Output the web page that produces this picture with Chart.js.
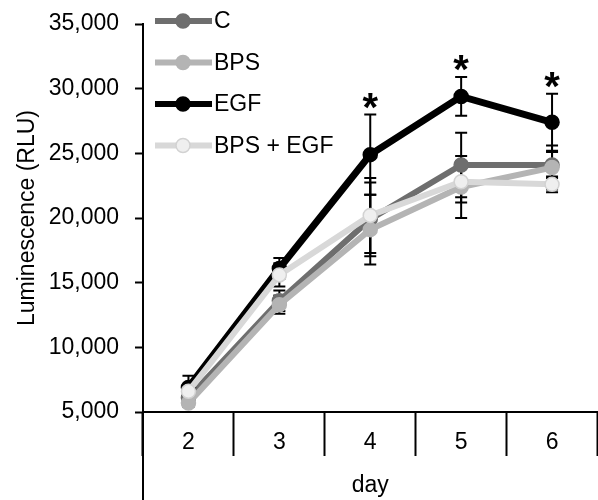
<!DOCTYPE html>
<html>
<head>
<meta charset="utf-8">
<script src="https://cdn.jsdelivr.net/npm/chart.js@4.4.1/dist/chart.umd.min.js"></script>
<style>
  html, body { margin: 0; padding: 0; background: #fff; overflow: hidden; }
  #wrap { width: 598px; height: 500px; overflow: hidden; }
  /* the last category runs a little past the right edge of the figure */
  #inner { width: 606px; height: 500px; }
</style>
</head>
<body>
<div id="wrap"><div id="inner"><canvas id="chart"></canvas></div></div>
<script>
// data (RLU)
const days = ['2', '3', '4', '5', '6'];
const cVals      = [6100, 13600, 19900, 24100, 24100];
const bpsVals    = [5700, 13300, 19100, 22400, 23900];
const egfVals    = [6900, 16100, 24900, 29400, 27400];
const bpsEgfVals = [6600, 15600, 20200, 22800, 22600];

// error bar half-lengths
const cErr      = [400, 800, 2850, 2500, 1000];
const bpsErr    = [300, 700, 2700, 2400, 1700];
const egfErr    = [900, 800, 3100, 1500, 2200];
const bpsEgfErr = [400, 900, 2900, 1600, 600];

// significance marks on the EGF series
const egfMarks = ['', '', '*', '*', '*'];

const yMin = 5000, yMax = 35000, yStep = 5000;

const FONT = "'Liberation Sans', Arial, sans-serif";
const font = { family: FONT, size: 23 };

const series = [
  { label: 'C',         data: cVals,      err: cErr,      line: '#6e6e6e', fill: '#6e6e6e', edge: '#6e6e6e' },
  { label: 'BPS',       data: bpsVals,    err: bpsErr,    line: '#b4b4b4', fill: '#b4b4b4', edge: '#b4b4b4' },
  { label: 'EGF',       data: egfVals,    err: egfErr,    line: '#000000', fill: '#000000', edge: '#000000' },
  { label: 'BPS + EGF', data: bpsEgfVals, err: bpsEgfErr, line: '#d8d8d8', fill: '#efefef', edge: '#d2d2d2' }
];

// error bars, drawn behind the lines
const errorBars = {
  id: 'errorBars',
  beforeDatasetsDraw(chart) {
    const { ctx, scales: { y } } = chart;
    ctx.save();
    ctx.strokeStyle = '#000';
    ctx.lineWidth = 2;
    chart.data.datasets.forEach((ds, i) => {
      const meta = chart.getDatasetMeta(i);
      meta.data.forEach((pt, j) => {
        const e = ds.errors[j];
        const top = y.getPixelForValue(ds.data[j] + e);
        const bot = y.getPixelForValue(ds.data[j] - e);
        ctx.beginPath();
        ctx.moveTo(pt.x, top); ctx.lineTo(pt.x, bot);
        ctx.moveTo(pt.x - 6, top); ctx.lineTo(pt.x + 6, top);
        ctx.moveTo(pt.x - 6, bot); ctx.lineTo(pt.x + 6, bot);
        ctx.stroke();
      });
    });
    ctx.restore();
  }
};

// asterisks above EGF error bars
const asterisks = {
  id: 'asterisks',
  afterDatasetsDraw(chart) {
    const { ctx, scales: { y } } = chart;
    const idx = 2;
    const ds = chart.data.datasets[idx];
    const meta = chart.getDatasetMeta(idx);
    ctx.save();
    ctx.fillStyle = '#000';
    ctx.font = 'bold 40px ' + FONT;
    ctx.textAlign = 'center';
    ctx.textBaseline = 'middle';
    egfMarks.forEach((m, j) => {
      if (!m) return;
      const top = y.getPixelForValue(ds.data[j] + ds.errors[j]);
      ctx.fillText(m, meta.data[j].x, top - 5);
    });
    ctx.restore();
  }
};

// y axis line continues down through the category band, plus the legend
const extras = {
  id: 'extras',
  afterDraw(chart) {
    const { ctx, chartArea } = chart;
    ctx.save();
    ctx.strokeStyle = '#000';
    ctx.lineWidth = 2;
    ctx.beginPath();
    ctx.moveTo(chartArea.left, chartArea.bottom);
    ctx.lineTo(chartArea.left, chart.height);
    ctx.stroke();

    // legend
    ctx.font = '23px ' + FONT;
    ctx.textBaseline = 'middle';
    ctx.textAlign = 'left';
    chart.data.datasets.forEach((ds, i) => {
      const cy = 21 + i * 41.5;
      ctx.strokeStyle = ds.borderColor;
      ctx.lineWidth = 6;
      ctx.beginPath();
      ctx.moveTo(155, cy); ctx.lineTo(212, cy);
      ctx.stroke();
      ctx.beginPath();
      ctx.arc(183, cy, 7, 0, Math.PI * 2);
      ctx.fillStyle = ds.pointBackgroundColor;
      ctx.fill();
      ctx.lineWidth = 1.5;
      ctx.strokeStyle = ds.pointBorderColor;
      ctx.stroke();
      ctx.fillStyle = '#000';
      ctx.fillText(ds.label, 214, cy + 1);
    });
    ctx.restore();
  }
};

new Chart(document.getElementById('chart'), {
  type: 'line',
  data: {
    labels: days,
    datasets: series.map((s, i) => ({
      label: s.label,
      data: s.data,
      errors: s.err,
      borderColor: s.line,
      backgroundColor: s.fill,
      pointBackgroundColor: s.fill,
      pointBorderColor: s.edge,
      pointBorderWidth: 1.5,
      pointRadius: 7,
      borderWidth: i === 2 ? 7 : 6,
      tension: 0,
      order: series.length - i
    }))
  },
  options: {
    responsive: true,
    maintainAspectRatio: false,
    animation: false,
    layout: { padding: { top: 24, right: 0, bottom: 0, left: 0 } },
    plugins: {
      legend: { display: false },
      tooltip: { enabled: false }
    },
    scales: {
      x: {
        type: 'category',
        offset: true,
        afterFit: (s) => { s.height = 88; s.paddingLeft = 0; s.paddingRight = 0; },
        grid: {
          offset: true,
          drawOnChartArea: false,
          tickLength: 44,
          tickWidth: 2,
          tickColor: '#000'
        },
        border: { color: '#000', width: 2 },
        ticks: { color: '#000', font: font, padding: -27, maxRotation: 0 },
        title: {
          display: true,
          text: 'day',
          color: '#000',
          font: font,
          padding: { top: 0, bottom: 1 }
        }
      },
      y: {
        min: yMin,
        max: yMax,
        afterFit: (s) => { s.width = 143; s.paddingTop = 0; s.paddingBottom = 0; },
        grid: {
          drawOnChartArea: false,
          tickLength: 8,
          tickWidth: 2,
          tickColor: '#000'
        },
        border: { color: '#000', width: 2 },
        ticks: {
          stepSize: yStep,
          color: '#000',
          font: font,
          padding: 16,
          callback: (v) => v.toLocaleString('en-US')
        },
        title: {
          display: true,
          text: 'Luminescence (RLU)',
          color: '#000',
          font: font,
          padding: { top: 14, bottom: 0 }
        }
      }
    }
  },
  plugins: [errorBars, asterisks, extras]
});
</script>
</body>
</html>
